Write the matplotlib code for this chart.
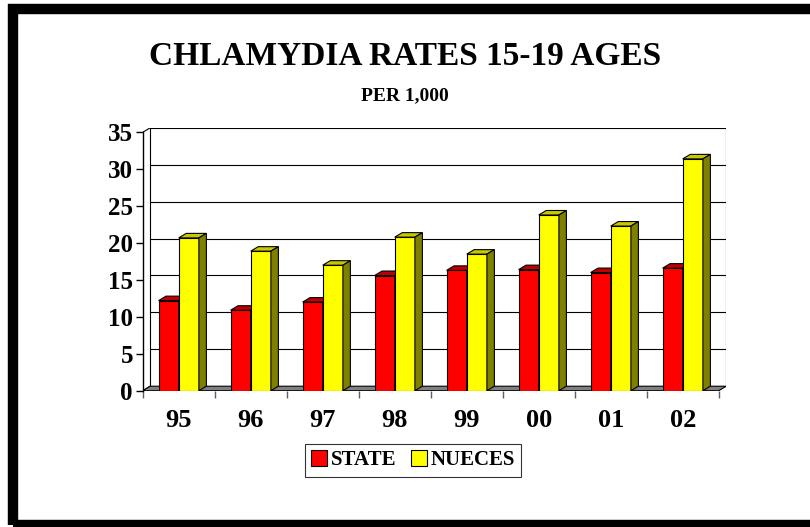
import matplotlib
matplotlib.use('Agg')
import matplotlib.pyplot as plt
from matplotlib.patches import Polygon, Rectangle, Patch

years = ['95', '96', '97', '98', '99', '00', '01', '02']
state = [12.2, 10.9, 12.0, 15.6, 16.3, 16.4, 16.0, 16.6]
nueces = [20.7, 18.9, 17.0, 20.8, 18.5, 23.8, 22.3, 31.4]

plt.rcParams['font.family'] = ['Liberation Serif', 'DejaVu Serif']
plt.rcParams['font.weight'] = 'bold'

fig = plt.figure(figsize=(8.1, 5.27), dpi=100)

# depth of the fake 3d box, in data units
dx = 0.104
dy = 0.61
ymax = 35
n = len(years)

ax = fig.add_axes([0.1762, 0.2586, 0.7204, 0.4989])
ax.set_xlim(0, n + dx)
ax.set_ylim(0, ymax + dy)
for s in ['top', 'right', 'bottom']:
    ax.spines[s].set_visible(False)
ax.spines['left'].set_bounds(0, ymax)
ax.spines['left'].set_linewidth(1)

# walls, floor and gridlines
ax.add_patch(Polygon([(0, 0), (n, 0), (n + dx, dy), (dx, dy)], closed=True,
                     facecolor='#808080', edgecolor='black', lw=0.8, zorder=1))
for v in range(5, ymax + 1, 5):
    ax.plot([dx, n + dx], [v + dy, v + dy], color='black', lw=0.8, zorder=0.5)
ax.plot([dx, dx], [dy, ymax + dy], color='black', lw=0.8, zorder=0.5)
ax.plot([n + dx, n + dx], [dy, ymax + dy], color='black', lw=0.8, zorder=0.5)
ax.plot([0, dx], [ymax, ymax + dy], color='black', lw=0.8, zorder=0.5)
ax.plot([0, dx], [0, dy], color='black', lw=0.8, zorder=0.5)

w = 0.28


def bar3d(x0, h, front, top, side):
    ax.bar(x0, h, width=w, align='edge', color=front, edgecolor='black', lw=0.8, zorder=3)
    ax.add_patch(Polygon([(x0, h), (x0 + w, h), (x0 + w + dx, h + dy), (x0 + dx, h + dy)],
                         closed=True, facecolor=top, edgecolor='black', lw=0.8, zorder=3))
    ax.add_patch(Polygon([(x0 + w, 0), (x0 + w + dx, dy), (x0 + w + dx, h + dy), (x0 + w, h)],
                         closed=True, facecolor=side, edgecolor='black', lw=0.8, zorder=3))


for i in range(n):
    c = i + 0.5
    bar3d(c - w, state[i], '#FF0000', '#C00000', '#800000')
    bar3d(c, nueces[i], '#FFFF00', '#C8C800', '#808000')

ax.set_yticks(range(0, ymax + 1, 5))
ax.tick_params(axis='y', direction='out', length=5, width=1, labelsize=18, pad=2)
ax.set_xticks(range(n + 1))
ax.set_xticklabels([])
ax.tick_params(axis='x', which='major', direction='out', length=5, width=1, colors='#606060')
ax.set_xticks([i + 0.5 for i in range(n)], minor=True)
ax.set_xticklabels(years, minor=True, fontsize=19, fontweight='bold')
ax.tick_params(axis='x', which='minor', length=0, pad=13, labelcolor='black')

fig.text(0.5, 0.892, 'CHLAMYDIA RATES 15-19 AGES',
         ha='center', va='center', fontsize=24, fontweight='bold')
fig.text(0.5, 0.818, 'PER 1,000', ha='center', va='center', fontsize=14, fontweight='bold')

handles = [Patch(facecolor='#FF0000', edgecolor='black', lw=0.8),
           Patch(facecolor='#FFFF00', edgecolor='black', lw=0.8)]
leg = fig.legend(handles, ['STATE', 'NUECES'], loc='center', ncol=2,
                 bbox_to_anchor=(0.51, 0.1265), frameon=True, fancybox=False,
                 prop={'size': 15, 'weight': 'bold'}, handlelength=0.75, handleheight=0.75,
                 handletextpad=0.2, columnspacing=0.7, borderpad=0.3, borderaxespad=0)
leg.get_frame().set_edgecolor('black')
leg.get_frame().set_linewidth(0.8)

# thick black frame around the chart
fig.patches.append(Rectangle((13 / 810, 2.5 / 527), 1.05, 516 / 527, transform=fig.transFigure,
                             fill=False, edgecolor='black', lw=7.5, figure=fig))

fig.savefig('out.png', dpi=100)
